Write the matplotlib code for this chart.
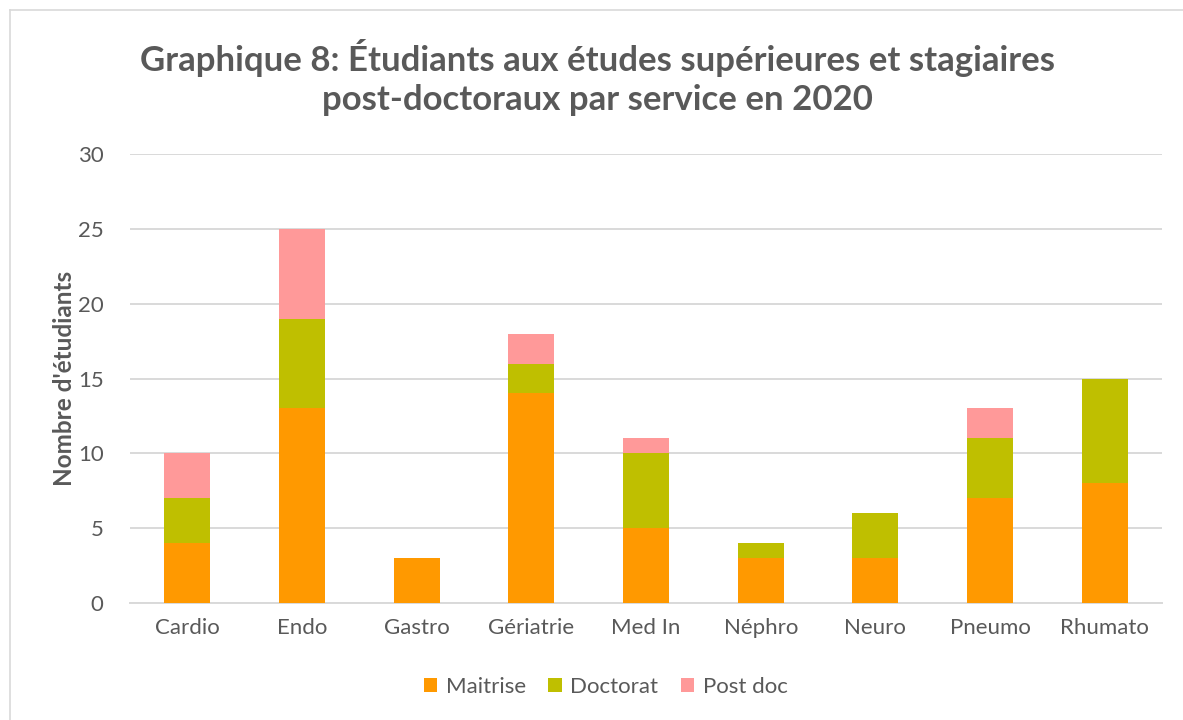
import matplotlib.pyplot as plt
import numpy as np

services = ["Cardio", "Endo", "Gastro", "Gériatrie", "Med In", "Néphro", "Neuro", "Pneumo", "Rhumato"]
maitrise = [4, 13, 3, 14, 5, 3, 3, 7, 8]
doctorat = [3, 6, 0, 2, 5, 1, 3, 4, 7]
postdoc = [3, 6, 0, 2, 1, 0, 0, 2, 0]

grey = "#595959"
plt.rcParams['font.family'] = ['Lato', 'DejaVu Sans']

fig = plt.figure(figsize=(11.83, 7.2), dpi=100)
ax = fig.add_axes([0.1099, 0.1625, 0.8724, 0.6236])

x = np.arange(len(services))
w = 0.4
m = np.array(maitrise)
d = np.array(doctorat)
p = np.array(postdoc)
ax.bar(x, m, w, color="#FF9900", label="Maitrise", zorder=3)
ax.bar(x, d, w, bottom=m, color="#BFBF00", label="Doctorat", zorder=3)
ax.bar(x, p, w, bottom=m + d, color="#FF9999", label="Post doc", zorder=3)

ax.set_xlim(-0.5, len(services) - 0.5)
ax.set_ylim(0, 30)
ax.set_yticks(range(0, 31, 5))
ax.set_xticks(x)
ax.set_xticklabels(services)
ax.tick_params(length=0, labelsize=16, labelcolor=grey)
ax.tick_params(axis='x', pad=11)
ax.tick_params(axis='y', pad=19)
ax.grid(axis='y', color="#D9D9D9", linewidth=1.4, zorder=0)
for s in ["top", "right", "left"]:
    ax.spines[s].set_visible(False)
ax.spines["bottom"].set_color("#D9D9D9")
ax.spines["bottom"].set_linewidth(1.4)

ax.set_ylabel("Nombre d'étudiants", fontsize=17.5, fontweight='bold', color=grey, labelpad=1)

fig.text(0.505, 0.892, "Graphique 8: Étudiants aux études supérieures et stagiaires\npost-doctoraux par service en 2020",
         ha='center', va='center', fontsize=25, fontweight='bold', color=grey, linespacing=1.28)

leg = fig.legend(loc='center', bbox_to_anchor=(0.512, 0.046), ncol=3, frameon=False,
                 fontsize=16, handlelength=0.6, handleheight=0.6, columnspacing=1.0, handletextpad=0.4)
for t in leg.get_texts():
    t.set_color(grey)

# figure border (top and left visible)
fig.add_artist(plt.Line2D([10 / 1183, 1], [1 - 10 / 720, 1 - 10 / 720], color="#D9D9D9", linewidth=1.2, transform=fig.transFigure))
fig.add_artist(plt.Line2D([10 / 1183, 10 / 1183], [0, 1 - 10 / 720], color="#D9D9D9", linewidth=1.2, transform=fig.transFigure))

fig.savefig("out.png", dpi=100)
